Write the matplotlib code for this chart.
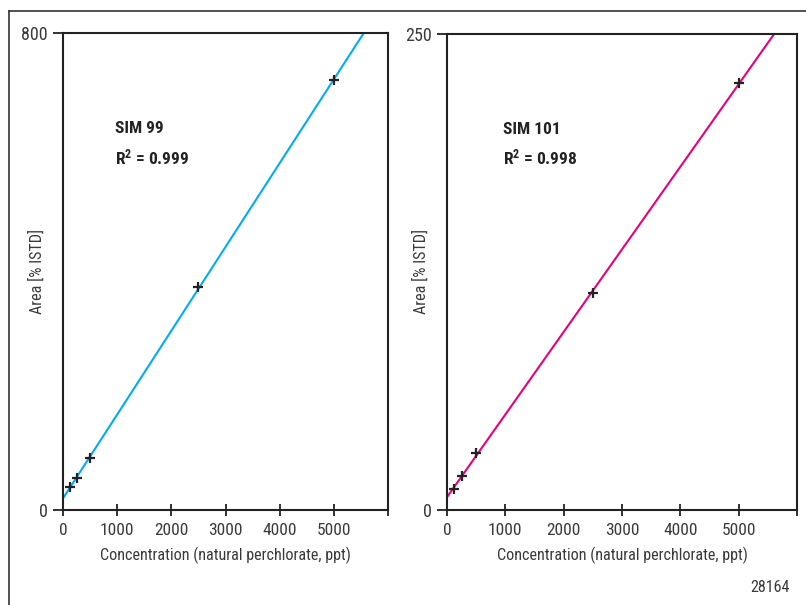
import numpy as np
import matplotlib
matplotlib.use("Agg")
import matplotlib.pyplot as plt
from matplotlib.lines import Line2D
from matplotlib import font_manager

# 选一个窄体字体（类似 Helvetica Condensed）
have = {f.name for f in font_manager.fontManager.ttflist}
prefs = ['Roboto Condensed', 'Liberation Sans Narrow', 'Barlow Semi Condensed',
         'Archivo Narrow', 'Liberation Sans']
fam = [n for n in prefs if n in have][0]

plt.rcParams['font.family'] = [fam, 'DejaVu Sans']
plt.rcParams['mathtext.fontset'] = 'custom'
plt.rcParams['mathtext.rm'] = fam
plt.rcParams['mathtext.bf'] = fam + ':bold'
plt.rcParams['mathtext.default'] = 'bf'

# 数据：浓度 (ppt) 与面积 (% ISTD)
conc = [125, 250, 500, 2500, 5000]
area_sim99 = [39, 54, 87, 374, 721]
area_sim101 = [11, 18, 30, 114, 224]

x_ticks = [0, 1000, 2000, 3000, 4000, 5000, 6000]
x_labels = ["0", "1000", "2000", "3000", "4000", "5000", ""]

panels = [
    # (数据, 颜色, ymax, 名称, R2, 位置)
    (area_sim99, "#00aeef", 800, "SIM 99", "0.999", [0.0782, 0.157, 0.4032, 0.7885]),
    (area_sim101, "#e6007e", 250, "SIM 101", "0.998", [0.5546, 0.157, 0.4342, 0.787]),
]

fig = plt.figure(figsize=(8.06, 6.05), dpi=100)

# 外框线
fig.add_artist(Line2D([9 / 806, 9 / 806], [0, 1 - 11 / 605], color="#333333", lw=1.2))
fig.add_artist(Line2D([9 / 806, 1], [1 - 11 / 605, 1 - 11 / 605], color="#333333", lw=1.2))

txt_col = "#3a3a3a"
fs = 12.5
for area, col, ymax, name, r2, pos in panels:
    ax = fig.add_axes(pos)
    x = np.array(conc)
    y = np.array(area)
    k, b = np.polyfit(x, y, 1)     # 线性拟合
    xl = np.array([0, 6000])
    ax.plot(xl, k * xl + b, color=col, lw=1.5, zorder=2)
    ax.plot(x, y, "+", color="#222222", ms=7, mew=1.6, zorder=3)
    ax.set_xlim(0, 6000)
    ax.set_ylim(0, ymax)
    ax.set_xticks(x_ticks)
    ax.set_xticklabels(x_labels)
    ax.set_yticks([0, ymax])
    ax.tick_params(axis="x", direction="inout", length=8, width=1.3,
                   labelsize=fs, colors="#222222", labelcolor=txt_col, pad=5)
    ax.tick_params(axis="y", direction="out", length=7, width=1.3,
                   labelsize=fs + 0.5, colors="#222222", labelcolor=txt_col, pad=4)
    for s in ax.spines.values():
        s.set_linewidth(1.5)
        s.set_color("#222222")
    x0 = pos[0] + pos[2] / 2
    fig.text(x0, 1 - 555 / 605, "Concentration (natural perchlorate, ppt)",
             fontsize=11.6, color=txt_col, ha="center", va="center")
    fig.text(pos[0] - 26 / 806, 1 - 271 / 605, "Area [% ISTD]", fontsize=11.6,
             color=txt_col, ha="center", va="center", rotation=90)
    ax.text(0.16, 0.8, name, transform=ax.transAxes, fontsize=12.5,
            fontweight="bold", color="#222222", va="center")
    ax.text(0.16, 0.74, "R$^2$ = " + r2, transform=ax.transAxes, fontsize=12.5,
            fontweight="bold", color="#222222", va="center")

fig.text(770 / 806, 1 - 587 / 605, "28164", fontsize=11.5, color=txt_col,
         ha="center", va="center")

fig.savefig("out.png", dpi=100)
